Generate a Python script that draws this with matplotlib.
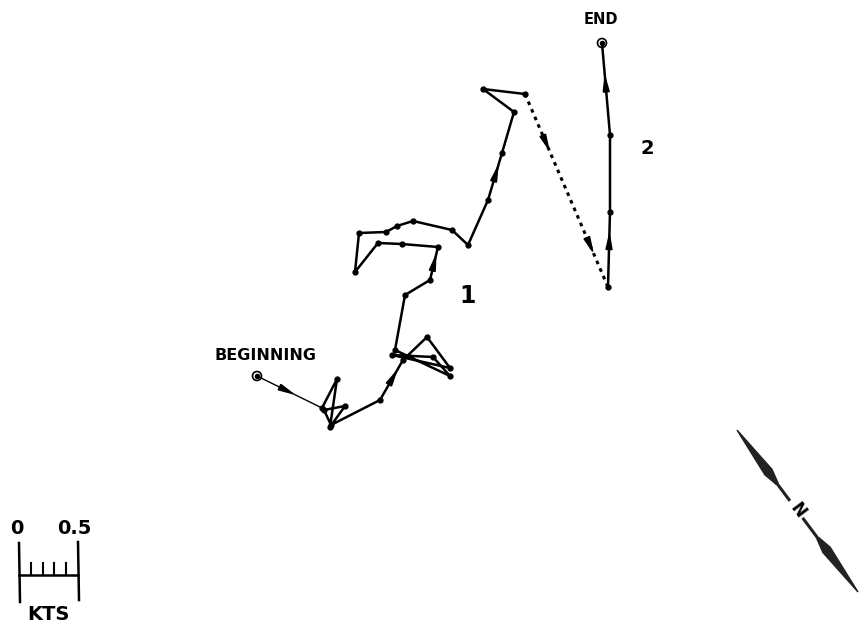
import numpy as np
import matplotlib.pyplot as plt
from matplotlib.patches import Polygon, Circle

# progressive vector track (drawing units, y grows downward as on the sheet)
track1_x = [257, 322, 337, 330, 345, 324, 331, 380, 403, 427, 450, 392, 433, 450, 395,
            405, 430, 438, 402, 378, 355, 359, 386, 397, 413, 452, 468, 488, 502, 514, 483, 525]
track1_y = [376, 408, 379, 427, 406, 410, 425, 400, 360, 337, 368, 355, 357, 376, 350,
            295, 280, 247, 244, 243, 272, 233, 232, 226, 221, 230, 245, 200, 153, 112, 89, 94]
gap_x = [525, 608]
gap_y = [94, 287]
track2_x = [608, 610, 610, 602]
track2_y = [287, 212, 135, 43]

# direction arrows: (segment index, fraction along segment)
arrows1 = [(0, 0.45), (7, 0.55), (16, 0.5), (27, 0.55)]
arrows_gap = [(0, 0.25), (0, 0.78)]
arrows2 = [(0, 0.6), (2, 0.55)]

# scale bar: 0 to 0.5 kts in 5 steps
scale_ticks = [0, 0.1, 0.2, 0.3, 0.4, 0.5]

fig = plt.figure(figsize=(8.61, 6.27), dpi=100)
ax = fig.add_axes([0, 0, 1, 1])
ax.set_xlim(0, 861)
ax.set_ylim(627, 0)
ax.axis('off')


def arrowhead(x, y, seg, frac, length=15, width=6):
    x0, y0, x1, y1 = x[seg], y[seg], x[seg + 1], y[seg + 1]
    d = np.array([x1 - x0, y1 - y0], float)
    d /= np.hypot(*d)
    n = np.array([-d[1], d[0]])
    c = np.array([x0 + frac * (x1 - x0), y0 + frac * (y1 - y0)])
    tip = c + d * length / 2
    back = c - d * length / 2
    ax.add_patch(Polygon([tip, back + n * width / 2, back - n * width / 2],
                         closed=True, color='black', zorder=4))


# track 1
ax.plot(track1_x[:2], track1_y[:2], color='black', lw=1.0)
ax.plot(track1_x[1:], track1_y[1:], color='black', lw=1.8)
ax.plot(track1_x[1:], track1_y[1:], 'o', color='black', ms=3.5)
for s, f in arrows1:
    arrowhead(track1_x, track1_y, s, f)

# dotted jump
ax.plot(gap_x, gap_y, color='black', lw=2.2, linestyle=(0, (1.2, 1.5)))
for s, f in arrows_gap:
    arrowhead(gap_x, gap_y, s, f)

# track 2
ax.plot(track2_x, track2_y, color='black', lw=1.8)
ax.plot(track2_x[:-1], track2_y[:-1], 'o', color='black', ms=3.5)
for s, f in arrows2:
    arrowhead(track2_x, track2_y, s, f)

# start and end markers
for cx, cy in [(track1_x[0], track1_y[0]), (track2_x[-1], track2_y[-1])]:
    ax.add_patch(Circle((cx, cy), 4.5, fill=False, ec='black', lw=1.2))
    ax.plot(cx, cy, 'o', color='black', ms=3)

bold = dict(fontweight='heavy', color='black', family='DejaVu Sans')
ax.text(266, 355, 'BEGINNING', fontsize=11.5, ha='center', va='center', **bold)
ax.text(601, 19, 'END', fontsize=10.5, ha='center', va='center', **bold)
ax.text(468, 296, '1', fontsize=17, ha='center', va='center', **bold)
ax.text(647, 148, '2', fontsize=14, ha='center', va='center', **bold)

# scale bar
x0, x1, yb = 19, 78, 575
ax.plot([x0, x1], [yb, yb], color='black', lw=1.8)
ax.plot([x0, x0 + 1], [543, 602], color='black', lw=1.8)
ax.plot([x1, x1 + 1], [542, 600], color='black', lw=1.8)
for t in scale_ticks[1:-1]:
    xt = x0 + (x1 - x0) * t / 0.5
    ax.plot([xt, xt], [yb, 563], color='black', lw=1.5)
ax.text(17, 529, '0', fontsize=14, ha='center', va='center', **bold)
ax.text(74, 528, '0.5', fontsize=14, ha='center', va='center', **bold)
ax.text(48, 614, 'KTS', fontsize=14, ha='center', va='center', **bold)

# north arrow
a = np.array([737, 430.0])
b = np.array([858, 592.0])
d = (b - a) / np.hypot(*(b - a))
n = np.array([-d[1], d[0]])
L = np.hypot(*(b - a))
ax.add_patch(Polygon([a, a + d * 0.26 * L + n * 4.5, a + d * 0.33 * L + n * 1.2,
                      a + d * 0.33 * L - n * 1.2, a + d * 0.26 * L - n * 4.5],
                     closed=True, color='#222222'))
ax.add_patch(Polygon([b, b - d * 0.26 * L + n * 4.5, b - d * 0.33 * L + n * 1.2,
                      b - d * 0.33 * L - n * 1.2, b - d * 0.26 * L - n * 4.5],
                     closed=True, color='#222222'))
ax.plot([a[0] + d[0] * 0.3 * L, a[0] + d[0] * 0.43 * L],
        [a[1] + d[1] * 0.3 * L, a[1] + d[1] * 0.43 * L], color='#222222', lw=2.2)
ax.plot([b[0] - d[0] * 0.3 * L, b[0] - d[0] * 0.45 * L],
        [b[1] - d[1] * 0.3 * L, b[1] - d[1] * 0.45 * L], color='#222222', lw=2.2)
mid = a + d * 0.5 * L
ax.text(mid[0], mid[1], 'N', fontsize=12, rotation=-53, ha='center', va='center',
        **bold)

fig.savefig('out.png', dpi=100)
